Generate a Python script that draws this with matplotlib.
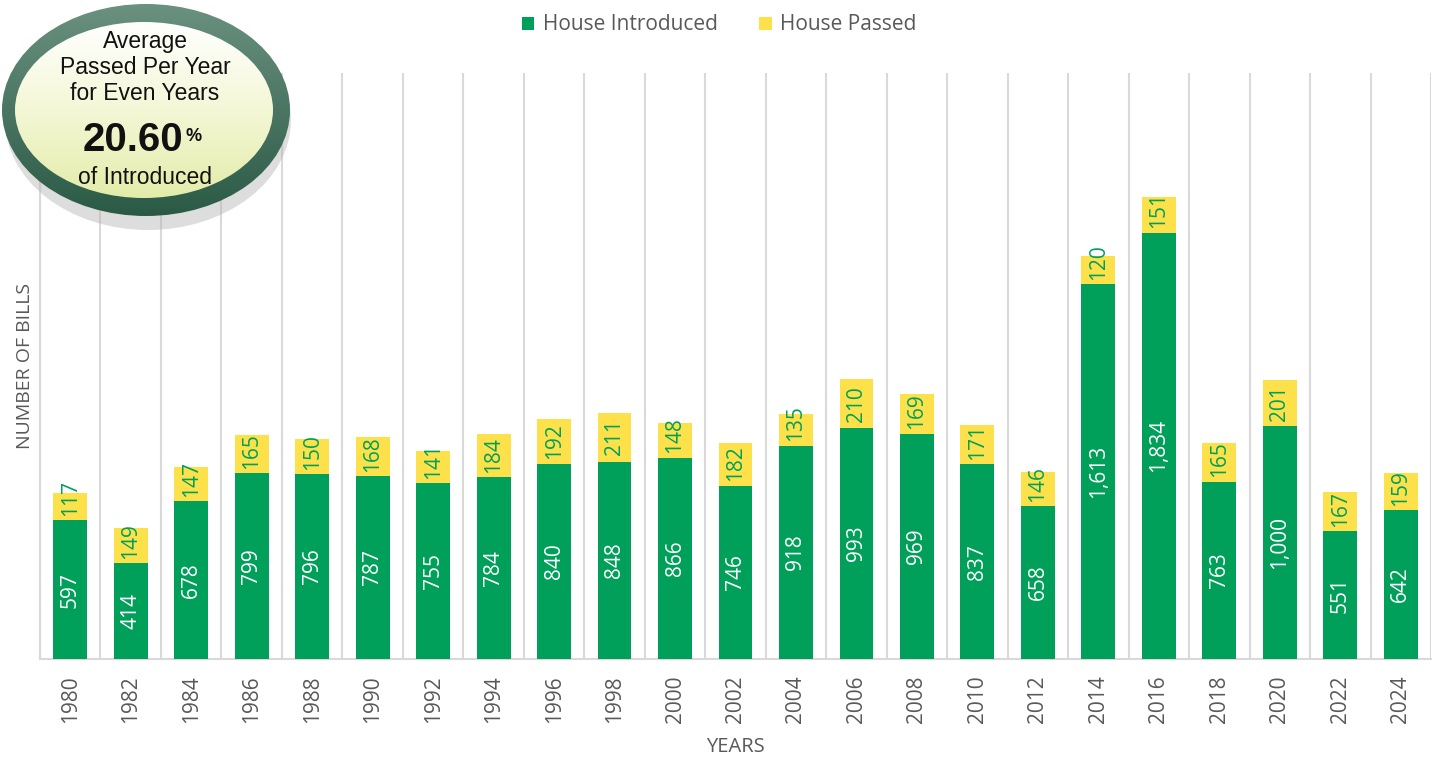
import numpy as np
import matplotlib.pyplot as plt
from matplotlib.patches import Ellipse
from matplotlib.colors import LinearSegmentedColormap

# Data
years = [1980, 1982, 1984, 1986, 1988, 1990, 1992, 1994, 1996, 1998, 2000, 2002,
         2004, 2006, 2008, 2010, 2012, 2014, 2016, 2018, 2020, 2022, 2024]
introduced = [597, 414, 678, 799, 796, 787, 755, 784, 840, 848, 866, 746,
              918, 993, 969, 837, 658, 1613, 1834, 763, 1000, 551, 642]
passed = [117, 149, 147, 165, 150, 168, 141, 184, 192, 211, 148, 182,
          135, 210, 169, 171, 146, 120, 151, 165, 201, 167, 159]

GREEN = '#00a05a'
YELLOW = '#fde14a'
GRAY_TXT = '#595959'
GRID = '#d9d9d9'

plt.rcParams['font.family'] = ['Open Sans', 'DejaVu Sans']

fig = plt.figure(figsize=(14.38, 7.65), dpi=100)
ax = fig.add_axes([40 / 1438, 106 / 765, 1391 / 1438, 586 / 765])

x = np.arange(len(years))
b1 = ax.bar(x, introduced, width=0.56, color=GREEN, label='House Introduced', zorder=3)
b2 = ax.bar(x, passed, width=0.56, bottom=introduced, color=YELLOW,
            label='House Passed', zorder=3)

# value labels, rotated like the original
# short yellow segments: label sits just above the green part, as in the source
min_off = 95
for xi, inc, ps in zip(x, introduced, passed):
    ax.text(xi, inc / 2, f'{inc:,}', rotation=90, ha='center', va='center',
            color='white', fontsize=15, zorder=4)
    ax.text(xi, inc + max(ps / 2, min_off), f'{ps:,}', rotation=90, ha='center',
            va='center', color=GREEN, fontsize=15, zorder=4)

ax.set_xlim(-0.5, len(years) - 0.5)
ax.set_ylim(0, 2520)
ax.set_xticks(x)
ax.set_xticklabels([str(y) for y in years], rotation=90, fontsize=15, color=GRAY_TXT)
ax.set_xticks(np.arange(-0.5, len(years)), minor=True)
ax.tick_params(axis='x', which='both', length=0, pad=12)
ax.set_yticks([])
ax.grid(True, axis='x', which='minor', color=GRID, linewidth=1.5, zorder=0)
ax.grid(False, axis='x', which='major')
for s in ['top', 'right']:
    ax.spines[s].set_visible(False)
for s in ['left', 'bottom']:
    ax.spines[s].set_color(GRID)
    ax.spines[s].set_linewidth(1.5)

ax.set_xlabel('YEARS', fontsize=14.5, color=GRAY_TXT, labelpad=10)
ax.set_ylabel('NUMBER OF BILLS', fontsize=14, color=GRAY_TXT, labelpad=4)

fig.legend(handles=[b1, b2], loc='center', bbox_to_anchor=(0.5, 1 - 25 / 765),
           ncol=2, frameon=False, fontsize=15, handlelength=0.6, handleheight=0.6,
           handletextpad=0.4, columnspacing=2.0, labelcolor=GRAY_TXT)

# Badge overlay in pixel coordinates
ov = fig.add_axes([0, 0, 1, 1], zorder=10)
ov.set_xlim(0, 1438)
ov.set_ylim(765, 0)
ov.axis('off')

ov.add_patch(Ellipse((148, 120), 286, 220, color='#b5b5b5', alpha=0.45, lw=0))

grad = np.linspace(0, 1, 256).reshape(-1, 1)
outer = Ellipse((146, 110), 288, 212, color='none', lw=0)
ov.add_patch(outer)
ring_cmap = LinearSegmentedColormap.from_list('ring', ['#6b9180', '#2a5a45'])
im1 = ov.imshow(grad, cmap=ring_cmap, extent=(2, 290, 216, 4), aspect='auto', zorder=11)
im1.set_clip_path(outer)

inner = Ellipse((144, 110), 258, 176, color='none', lw=0)
ov.add_patch(inner)
fill_cmap = LinearSegmentedColormap.from_list('fill', ['#ffffff', '#f4f7d6', '#e4ecaa'])
im2 = ov.imshow(grad, cmap=fill_cmap, extent=(15, 273, 198, 22), aspect='auto', zorder=12)
im2.set_clip_path(inner)

badge_font = ['Liberation Sans Narrow', 'Liberation Sans', 'DejaVu Sans']
for ty, txt in [(41, 'Average'), (67, 'Passed Per Year'), (93, 'for Even Years'),
                (177, 'of Introduced')]:
    ov.text(145, ty, txt, ha='center', va='center', fontsize=16.5, color='#111111',
            family=badge_font, zorder=13)
ov.text(133, 140, '20.60', ha='center', va='center', fontsize=29, fontweight='bold',
        color='#111111', family=['Liberation Sans', 'DejaVu Sans'], zorder=13)
ov.text(186, 136, '%', ha='left', va='center', fontsize=13, fontweight='bold',
        color='#111111', family=['Liberation Sans', 'DejaVu Sans'], zorder=13)

fig.savefig('out.png', dpi=100)
